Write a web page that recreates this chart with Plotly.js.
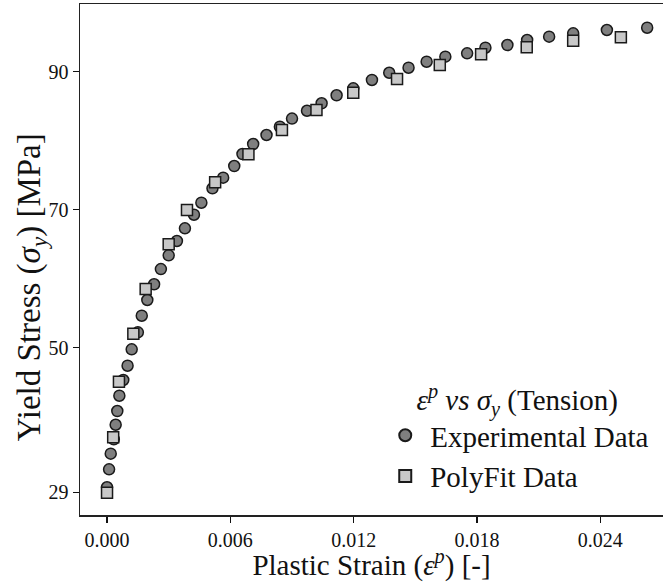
<!DOCTYPE html>
<html>
<head>
<meta charset="utf-8">
<script src="https://cdn.plot.ly/plotly-3.0.1.min.js"></script>
<style>html,body{margin:0;padding:0;background:#fff;}#chart{width:663px;height:582px;}</style>
</head>
<body>
<div id="chart"></div>
<script>
// Experimental data (plastic strain [-], yield stress [MPa])
const expStrain = [0, 0.0001, 0.00018, 0.00033, 0.00042, 0.0005, 0.0006, 0.00079, 0.001, 0.0012,
  0.0015, 0.00169, 0.00196, 0.00229, 0.00262, 0.003, 0.0034, 0.00379, 0.00423, 0.00459,
  0.00513, 0.00565, 0.00619, 0.00659, 0.00711, 0.00776, 0.00841, 0.009, 0.00973, 0.01044,
  0.01117, 0.01198, 0.01289, 0.01373, 0.01467, 0.01555, 0.01646, 0.01752, 0.01841, 0.01948,
  0.02044, 0.02151, 0.02268, 0.02432, 0.02628];
const expStress = [29.73, 32.33, 34.60, 36.69, 38.80, 40.79, 43.01, 45.29, 47.36, 49.74,
  52.20, 54.61, 56.89, 59.17, 61.38, 63.37, 65.45, 67.29, 69.26, 71.0,
  73.09, 74.63, 76.32, 78.06, 79.51, 80.82, 82.02, 83.2, 84.34, 85.42,
  86.58, 87.59, 88.8, 89.85, 90.58, 91.45, 92.18, 92.67, 93.48, 93.87,
  94.6, 95.08, 95.57, 96.05, 96.38];
// PolyFit data
const fitStrain = [0, 0.0003, 0.00058, 0.00128, 0.00188, 0.003, 0.00389, 0.00526, 0.00688,
  0.00851, 0.01019, 0.01198, 0.01411, 0.01619, 0.0182, 0.02042, 0.02268, 0.025];
const fitStress = [28.94, 36.98, 45.04, 52.0, 58.48, 64.97, 69.94, 73.96, 78.02,
  81.54, 84.45, 86.95, 88.94, 90.97, 92.52, 93.54, 94.5, 94.99];
// Axis ticks
const xTicks = [0, 0.006, 0.012, 0.018, 0.024];
const xTickLabels = ['0.000', '0.006', '0.012', '0.018', '0.024'];
const yTicks = [29, 50, 70, 90];
const yTickLabels = ['29', '50', '70', '90'];
// Texts
const xTitle = 'Plastic Strain (<i>ε</i><sup><i>p</i></sup>) [-]';
const yTitle = 'Yield Stress (<i>σ</i><sub><i>y</i></sub>) [MPa]';
const legendTitle = '<i>ε</i><sup><i>p</i></sup> <i>vs σ</i><sub><i>y</i></sub> (Tension)';
const seriesNames = ['Experimental Data', 'PolyFit Data'];

const FONT = 'Liberation Serif, DejaVu Serif, serif';

const traces = [
  {
    x: expStrain, y: expStress, type: 'scatter', mode: 'markers',
    name: seriesNames[0], legendgroup: 'a',
    marker: {symbol: 'circle', size: 11, color: '#7f7f7f', line: {color: '#1a1a1a', width: 1.5}}
  },
  {
    x: fitStrain, y: fitStress, type: 'scatter', mode: 'markers',
    name: seriesNames[1], legendgroup: 'b',
    marker: {symbol: 'square', size: 11, color: '#c8c8c8', line: {color: '#1a1a1a', width: 1.5}}
  }
];

const layout = {
  width: 663, height: 582,
  margin: {l: 80, r: 0, t: 4, b: 67},
  paper_bgcolor: '#fff', plot_bgcolor: '#fff',
  font: {family: FONT, color: '#111', size: 20},
  showlegend: true,
  legend: {
    x: 0.515, xanchor: 'left', y: 0.025, yanchor: 'bottom',
    bgcolor: 'rgba(0,0,0,0)', borderwidth: 0,
    font: {family: FONT, size: 29, color: '#111'},
    title: {text: legendTitle, side: 'top center', font: {family: FONT, size: 29, color: '#111'}},
    tracegroupgap: 0, itemsizing: 'constant', itemwidth: 40
  },
  xaxis: {
    range: [-0.001315, 0.02705],
    tickmode: 'array', tickvals: xTicks, ticktext: xTickLabels,
    ticks: 'outside', ticklen: 6, tickwidth: 1.3, tickcolor: '#111',
    showline: true, linecolor: '#222', linewidth: 1.5, mirror: true,
    showgrid: false, zeroline: false,
    tickfont: {family: FONT, size: 20, color: '#111'},
    title: {text: xTitle, font: {family: FONT, size: 29, color: '#111'}, standoff: 6}
  },
  yaxis: {
    range: [25.71, 99.82],
    tickmode: 'array', tickvals: yTicks, ticktext: yTickLabels,
    ticks: 'outside', ticklen: 6, tickwidth: 1.3, tickcolor: '#111',
    showline: true, linecolor: '#222', linewidth: 1.5, mirror: false,
    showgrid: false, zeroline: false,
    tickfont: {family: FONT, size: 20, color: '#111'}
  },
  annotations: [{
    text: yTitle, xref: 'paper', yref: 'paper',
    x: -0.083, y: 0.445, xanchor: 'center', yanchor: 'middle',
    textangle: -90, showarrow: false,
    font: {family: FONT, size: 33, color: '#111'}
  }]
};

Plotly.newPlot('chart', traces, layout, {displayModeBar: false, staticPlot: true});
</script>
</body>
</html>
